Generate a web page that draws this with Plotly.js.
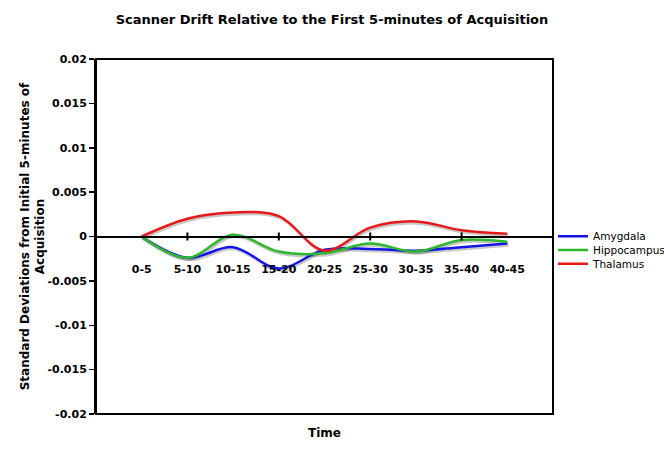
<!DOCTYPE html>
<html>
<head>
<meta charset="utf-8">
<script src="https://cdn.plot.ly/plotly-3.0.1.min.js"></script>
<style>html,body{margin:0;padding:0;background:#fff;}#chart{width:664px;height:449px;}</style>
</head>
<body>
<div id="chart"></div>
<script>
const categories = ['0-5','5-10','10-15','15-20','20-25','25-30','30-35','35-40','40-45'];
const amygdala    = [0, -0.0024, -0.0012, -0.0036, -0.0015, -0.0014, -0.0016, -0.0012, -0.0008];
const hippocampus = [0, -0.0024,  0.0002, -0.0017, -0.0019, -0.0008, -0.0017, -0.0004, -0.0006];
const thalamus    = [0,  0.0020,  0.0027,  0.0023, -0.0016,  0.0010,  0.0017,  0.0007,  0.0003];
const seriesNames = ['Amygdala', 'Hippocampus', 'Thalamus'];
const yTicks = [-0.02, -0.015, -0.01, -0.005, 0, 0.005, 0.01, 0.015, 0.02];
const yTickText = ['-0.02','-0.015','-0.01','-0.005','0','0.005','0.01','0.015','0.02'];

const font = 'DejaVu Sans, Verdana, sans-serif';
const colors = ['#1414e8', '#2cb82c', '#e81818'];
const legendNames = ['legend', 'legend2', 'legend3'];
const legendY = [0.501, 0.462, 0.423];
const allSeries = [amygdala, hippocampus, thalamus];

const yRange = [-0.02, 0.02];
const xRange = [-1, categories.length];
// drop-shadow offset (in pixels) converted to axis units for the hidden shadow axes
const plotW = 457, plotH = 355, shDx = 1, shDy = 2;
const dxU = shDx * (xRange[1] - xRange[0]) / plotW;
const dyU = shDy * (yRange[1] - yRange[0]) / plotH;

const shadows = allSeries.map((y, i) => ({
  type: 'scatter', mode: 'lines', name: seriesNames[i] + ' shadow', x: categories, y: y,
  line: {color: 'rgba(0,0,0,0.22)', width: 2.5, shape: 'spline', smoothing: 1},
  xaxis: 'x', yaxis: 'y', showlegend: false, hoverinfo: 'skip'
}));
const traces = allSeries.map((y, i) => ({
  type: 'scatter', mode: 'lines', name: seriesNames[i], x: categories, y: y,
  line: {color: colors[i], width: 2.5, shape: 'spline', smoothing: 1},
  xaxis: 'x2', yaxis: 'y2', legend: legendNames[i], hoverinfo: 'skip'
}));

const half = 4 / plotH;
const tickShapes = categories.filter((c, i) => i % 2 === 1).map(c => ({
  type: 'line', xref: 'x2', yref: 'paper', x0: c, x1: c, y0: 0.5 - half, y1: 0.5 + half,
  line: {color: '#000', width: 2}, layer: 'above'
}));

const legendBase = {
  x: 1.0, xanchor: 'left', yanchor: 'middle',
  font: {family: font, size: 10.5, color: '#000'}, bgcolor: 'rgba(0,0,0,0)', borderwidth: 0
};

const layout = {
  width: 664, height: 449,
  margin: {l: 96, r: 111, t: 59, b: 35, autoexpand: false},
  paper_bgcolor: '#fff', plot_bgcolor: '#fff',
  font: {family: font, color: '#000'},
  title: {text: 'Scanner Drift Relative to the First 5-minutes of Acquisition',
          font: {family: font, size: 13, weight: 'bold', color: '#000'},
          x: 0.5, xref: 'container', xanchor: 'center', y: 0.957, yref: 'container', yanchor: 'middle'},
  xaxis: {
    type: 'category', categoryorder: 'array', categoryarray: categories,
    range: [xRange[0] - dxU, xRange[1] - dxU], visible: false, showgrid: false, zeroline: false
  },
  yaxis: {
    range: [yRange[0] + dyU, yRange[1] + dyU], visible: false, showgrid: false, zeroline: false
  },
  xaxis2: {
    overlaying: 'x', type: 'category', categoryorder: 'array', categoryarray: categories,
    range: xRange, anchor: 'free', position: 0.5,
    showline: true, linecolor: '#000', linewidth: 2,
    ticks: '', showgrid: false, zeroline: false,
    tickfont: {family: font, size: 11, weight: 'bold', color: '#000'},
    ticklabelstandoff: 22
  },
  yaxis2: {
    overlaying: 'y', side: 'left', anchor: 'x2',
    range: yRange, tickmode: 'array', tickvals: yTicks, ticktext: yTickText,
    showline: true, linecolor: '#000', linewidth: 2, ticks: 'outside', ticklen: 5,
    tickwidth: 1.5, tickcolor: '#000', showgrid: false, zeroline: false,
    tickfont: {family: font, size: 11, weight: 'bold', color: '#000'},
    title: {text: 'Standard Deviations from Initial 5-minutes of<br>Acquisition',
            font: {family: font, size: 12, weight: 'bold', color: '#000'}, standoff: 0}
  },
  annotations: [{
    text: 'Time', xref: 'paper', yref: 'paper', x: 0.5, y: 0, yshift: -19,
    showarrow: false, yanchor: 'middle',
    font: {family: font, size: 12, weight: 'bold', color: '#000'}
  }],
  shapes: [{type: 'rect', xref: 'paper', yref: 'paper', x0: 0, x1: 1, y0: 0, y1: 1,
            line: {color: '#000', width: 2}, layer: 'above'}].concat(tickShapes),
  legend: Object.assign({}, legendBase, {y: legendY[0]}),
  legend2: Object.assign({}, legendBase, {y: legendY[1]}),
  legend3: Object.assign({}, legendBase, {y: legendY[2]}),
  showlegend: true
};

Plotly.newPlot('chart', shadows.concat(traces), layout, {staticPlot: true});
</script>
</body>
</html>
